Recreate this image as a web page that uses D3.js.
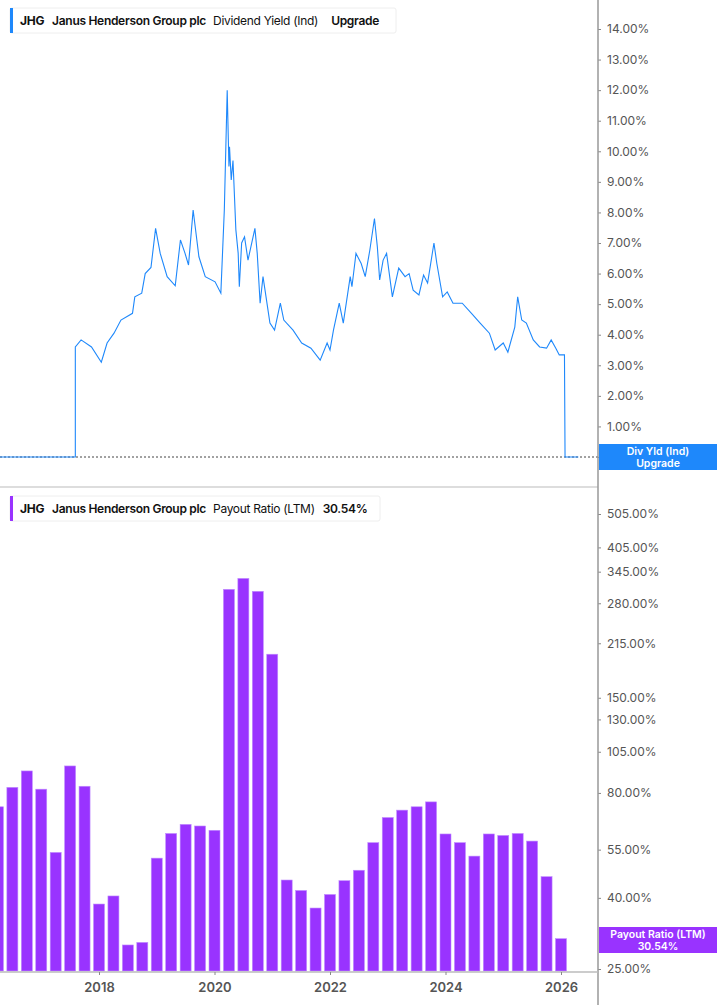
<!DOCTYPE html>
<html><head><meta charset="utf-8">
<script src="https://cdn.jsdelivr.net/npm/d3@7"></script>
<style>body{margin:0;background:#fff;font-family:Inter,Roboto,"Noto Sans",sans-serif}</style>
</head><body><svg id="c" width="717" height="1005"></svg>
<script>
// Dividend yield (%) by decimal year
const yieldDates=[2016.28,2017.59,2017.59,2017.69,2017.87,2018.04,2018.14,2018.26,2018.38,2018.58,2018.62,2018.74,2018.80,2018.90,2018.98,2019.06,2019.18,2019.32,2019.41,2019.49,2019.55,2019.63,2019.73,2019.84,2020.01,2020.11,2020.17,2020.22,2020.25,2020.26,2020.29,2020.32,2020.37,2020.41,2020.43,2020.47,2020.52,2020.58,2020.63,2020.70,2020.74,2020.79,2020.84,2020.96,2021.04,2021.14,2021.20,2021.36,2021.51,2021.67,2021.83,2021.95,2022.00,2022.06,2022.16,2022.23,2022.35,2022.38,2022.45,2022.54,2022.61,2022.69,2022.77,2022.82,2022.86,2022.92,2022.98,2023.08,2023.19,2023.30,2023.37,2023.44,2023.54,2023.62,2023.69,2023.80,2023.85,2023.95,2024.03,2024.13,2024.29,2024.45,2024.60,2024.76,2024.86,2025.00,2025.08,2025.20,2025.25,2025.32,2025.40,2025.52,2025.63,2025.75,2025.83,2025.91,2025.97,2026.06,2026.07,2026.30];
const yieldValues=[0,0,3.6,3.83,3.6,3.1,3.73,4.05,4.48,4.7,5.24,5.36,6.0,6.2,7.48,6.66,5.9,5.6,7.1,6.66,6.28,8.08,6.55,5.9,5.73,5.36,8.08,12.0,9.5,10.15,9.06,9.7,7.43,6.66,5.57,7.0,7.2,6.44,6.87,7.48,6.66,5.03,5.9,4.38,4.15,5.03,4.48,4.15,3.73,3.56,3.17,3.73,3.5,4.15,5.03,4.38,5.9,5.57,6.66,6.33,5.9,6.77,7.8,6.87,5.79,6.44,6.66,5.24,6.18,5.9,6.0,5.46,5.3,5.95,5.69,7.0,6.33,5.24,5.4,5.03,5.03,4.7,4.38,4.05,3.5,3.73,3.43,4.25,5.24,4.48,4.38,3.83,3.6,3.56,3.83,3.56,3.34,3.34,0,0];
// Payout ratio (LTM, %) quarterly
const payoutDates=[2016.25,2016.5,2016.75,2017.0,2017.25,2017.5,2017.75,2018.0,2018.25,2018.5,2018.75,2019.0,2019.25,2019.5,2019.75,2020.0,2020.25,2020.5,2020.75,2021.0,2021.25,2021.5,2021.75,2022.0,2022.25,2022.5,2022.75,2023.0,2023.25,2023.5,2023.75,2024.0,2024.25,2024.5,2024.75,2025.0,2025.25,2025.5,2025.75,2026.0];
const payoutValues=[73,83,92.5,82,54,95.6,83.6,38.4,40.5,29.3,29.8,52,61.2,65,64.3,62.5,307,330,303,200,45,42,37.4,40.9,44.8,48,57.6,68,71.4,73,75.4,61,57.6,52.7,61,60.4,61.2,58.2,46,30.54];
const yieldTicks=[0,1,2,3,4,5,6,7,8,9,10,11,12,13,14];
const payoutTicks=[25,40,55,80,105,130,150,215,280,345,405,505];
const yearTicks=[2018,2020,2022,2024,2026];

const svg=d3.select("#c");
const AX=598;
const x=d3.scaleLinear().domain([2018,2026]).range([99,561]);
const yT=d3.scaleLinear().domain([0,14]).range([457,29]);
const yB=d3.scaleLog().domain([25,505]).range([969,514]);
const grey="#555";

svg.append("line").attr("x1",0).attr("x2",AX).attr("y1",yT(0)).attr("y2",yT(0)).attr("stroke","#444").attr("stroke-dasharray","2,2");
svg.append("path").datum(yieldDates.map((d,i)=>[d,yieldValues[i]]))
 .attr("d",d3.line().x(d=>x(d[0])).y(d=>yT(d[1])))
 .attr("fill","none").attr("stroke","#1e88fb").attr("stroke-width",1.1);
const gT=svg.append("g").attr("transform",`translate(${AX},0)`)
 .call(d3.axisRight(yT).tickValues(yieldTicks).tickSize(3).tickFormat(d=>d.toFixed(2)+"%"));
svg.append("line").attr("x1",0).attr("x2",AX).attr("y1",487).attr("y2",487).attr("stroke","#ddd").attr("stroke-width",2);
svg.append("g").selectAll("rect").data(payoutDates.map((d,i)=>[d,payoutValues[i]])).join("rect")
 .attr("x",d=>x(d[0])-5.5).attr("width",11).attr("y",d=>yB(d[1])).attr("height",d=>971-yB(d[1]))
 .attr("fill","#9933ff").attr("stroke","#c08cff").attr("stroke-width",0.6);
const gB=svg.append("g").attr("transform",`translate(${AX},0)`)
 .call(d3.axisRight(yB).tickValues(payoutTicks).tickSize(3).tickFormat(d=>d.toFixed(2)+"%"));
[gT,gB].forEach(g=>{g.select(".domain").remove();g.selectAll("text").attr("fill",grey).attr("font-size",12).attr("x",9).attr("font-family","Inter,Roboto,sans-serif");g.selectAll("line").attr("stroke","#888");});
svg.append("line").attr("x1",AX).attr("x2",AX).attr("y1",0).attr("y2",1005).attr("stroke","#999").attr("stroke-width",1.5);
svg.append("line").attr("x1",0).attr("x2",AX).attr("y1",972).attr("y2",972).attr("stroke","#bbb").attr("stroke-width",1.5);
const gX=svg.append("g").attr("transform","translate(0,972)").call(d3.axisBottom(x).tickValues(yearTicks).tickSize(3).tickFormat(d3.format("d")));
gX.select(".domain").remove();
gX.selectAll("text").attr("fill",grey).attr("font-size",13).attr("font-weight",600).attr("dy","1.1em").attr("font-family","Inter,Roboto,sans-serif");
gX.selectAll("line").attr("stroke","#888");

function legend(y,w,color,parts){
  const g=svg.append("g");
  g.append("rect").attr("x",10).attr("y",y).attr("width",w).attr("height",25).attr("fill","#fff").attr("stroke","#eee").attr("rx",2);
  g.append("rect").attr("x",10).attr("y",y).attr("width",3).attr("height",25).attr("fill",color);
  const t=g.append("text").attr("x",20).attr("y",y+17).attr("font-size",12).attr("fill","#111").attr("font-family","Inter,Roboto,sans-serif").attr("letter-spacing","-0.3");
  parts.forEach(p=>t.append("tspan").attr("dx",p[1]).attr("font-weight",p[2]).text(p[0]));
}
legend(8,386,"#1e88fb",[["JHG",0,700],["Janus Henderson Group plc",8,600],["Dividend Yield (Ind)",7,400],["Upgrade",13,600]]);
legend(496,370,"#9933ff",[["JHG",0,700],["Janus Henderson Group plc",8,600],["Payout Ratio (LTM)",7,400],["30.54%",8,600]]);
function vbox(y,color,l1,l2){
  svg.append("rect").attr("x",599).attr("y",y).attr("width",118).attr("height",26).attr("fill",color);
  [l1,l2].forEach((s,i)=>svg.append("text").attr("x",658).attr("y",y+11+i*12).attr("text-anchor","middle").attr("font-size",10.5).attr("font-weight",600).attr("fill","#fff").attr("font-family","Inter,Roboto,sans-serif").text(s));
}
vbox(444,"#1e88fb","Div Yld (Ind)","Upgrade");
vbox(927,"#9933ff","Payout Ratio (LTM)","30.54%");
</script></body></html>
